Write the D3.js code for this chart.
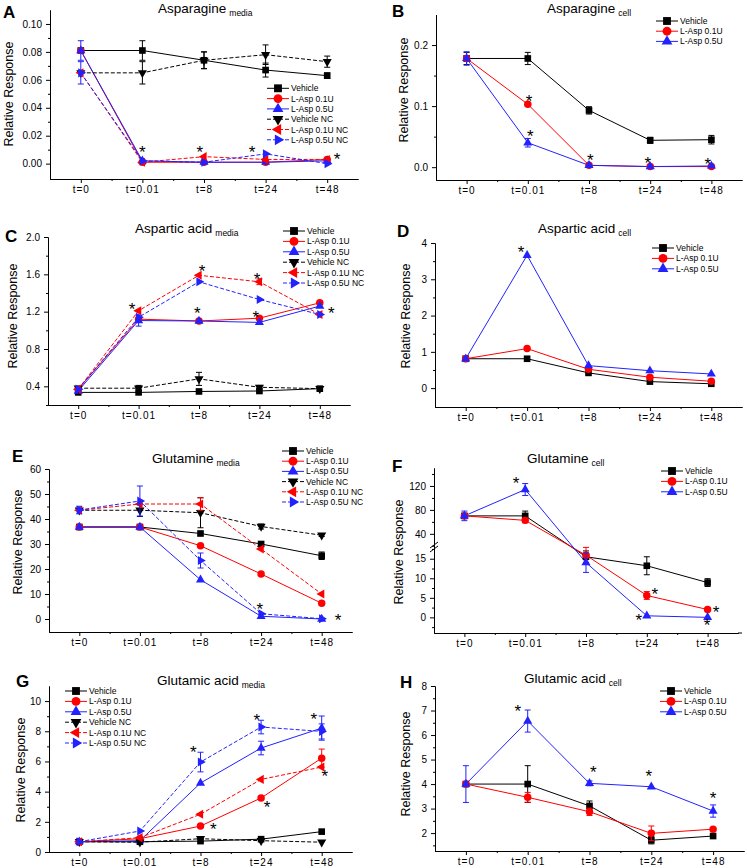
<!DOCTYPE html>
<html>
<head>
<meta charset="utf-8">
<title>amino acids - relative response</title>
<script src="https://cdn.jsdelivr.net/npm/d3@7"></script>
<style>
  body { margin: 0; background: #fff; }
  text { font-family: "Liberation Sans", Arial, sans-serif; fill: #000; }
</style>
</head>
<body>
<script>
// categorias y series
const categories = ["t=0", "t=0.01", "t=8", "t=24", "t=48"];
const seriesNames = ["Vehicle", "L-Asp 0.1U", "L-Asp 0.5U", "Vehicle NC", "L-Asp 0.1U NC", "L-Asp 0.5U NC"];

// A - Asparagine media
const asnMedVeh = [0.081, 0.081, 0.074, 0.067, 0.063], asnMedVehErr = [0, 0.007, 0.006, 0.005, 0.002];
const asnMed01 = [0.081, 0.001, 0.001, 0.001, 0.003], asnMed01Err = [0, 0, 0, 0, 0];
const asnMed05 = [0.081, 0.002, 0.001, 0.001, 0.002], asnMed05Err = [0.007, 0, 0, 0, 0];
const asnMedVehNC = [0.065, 0.065, 0.074, 0.078, 0.073], asnMedVehNCErr = [0, 0.008, 0.006, 0.007, 0.004];
const asnMed01NC = [0.065, 0.001, 0.005, 0.003, 0.003], asnMed01NCErr = [0, 0, 0, 0, 0];
const asnMed05NC = [0.065, 0.002, 0.001, 0.007, 0.000], asnMed05NCErr = [0.008, 0, 0, 0, 0];
const asnMedStars = [[1.0, 0.011], [1.93, 0.011], [2.78, 0.011], [4.16, 0.0065]];

// B - Asparagine cell
const asnCelVeh = [0.178, 0.178, 0.093, 0.044, 0.045], asnCelVehErr = [0.01, 0.01, 0.006, 0.005, 0.007];
const asnCel01 = [0.178, 0.103, 0.003, 0.001, 0.001], asnCel01Err = [0, 0.003, 0, 0, 0];
const asnCel05 = [0.178, 0.040, 0.003, 0.001, 0.002], asnCel05Err = [0.011, 0.007, 0, 0, 0];
const asnCelStars = [[1.02, 0.115], [1.04, 0.057], [2.02, 0.018], [2.96, 0.013], [3.94, 0.011]];

// C - Aspartic acid media
const aspMedVeh = [0.335, 0.335, 0.345, 0.35, 0.375], aspMedVehErr = [0, 0, 0, 0.02, 0];
const aspMed01 = [0.37, 1.12, 1.10, 1.13, 1.295], aspMed01Err = [0, 0, 0, 0, 0];
const aspMed05 = [0.35, 1.105, 1.10, 1.085, 1.26], aspMed05Err = [0, 0.06, 0, 0, 0];
const aspMedVehNC = [0.38, 0.38, 0.48, 0.39, 0.375], aspMedVehNCErr = [0, 0.03, 0.07, 0.02, 0.02];
const aspMed01NC = [0.37, 1.21, 1.59, 1.52, 1.17], aspMed01NCErr = [0, 0, 0, 0.03, 0];
const aspMed05NC = [0.37, 1.14, 1.52, 1.33, 1.17], aspMed05NCErr = [0, 0, 0, 0, 0];
const aspMedStars = [[0.89, 1.27], [2.05, 1.68], [1.97, 1.23], [2.96, 1.59], [2.94, 1.19], [4.19, 1.23]];

// D - Aspartic acid cell
const aspCelVeh = [0.81, 0.81, 0.42, 0.18, 0.12], aspCelVehErr = [0, 0, 0, 0, 0];
const aspCel01 = [0.81, 1.09, 0.52, 0.30, 0.19], aspCel01Err = [0, 0, 0, 0, 0];
const aspCel05 = [0.81, 3.66, 0.62, 0.48, 0.39], aspCel05Err = [0, 0, 0, 0, 0];
const aspCelStars = [[0.9, 3.86]];

// E - Glutamine media
const glnMedVeh = [36.8, 36.8, 34.2, 30.0, 25.3], glnMedVehErr = [0, 0, 0, 1, 1.5];
const glnMed01 = [36.8, 36.8, 29.3, 18.0, 6.3], glnMed01Err = [0, 0, 0, 0, 0];
const glnMed05 = [36.8, 36.8, 15.7, 1.1, 0.0], glnMed05Err = [0, 0, 0, 0, 0];
const glnMedVehNC = [43.5, 43.5, 42.5, 37.0, 33.5], glnMedVehNCErr = [0, 2.5, 6, 1, 0.5];
const glnMed01NC = [43.5, 46.0, 46.0, 28.0, 10.0], glnMed01NCErr = [0, 0, 2.5, 0, 0];
const glnMed05NC = [43.6, 47.2, 23.4, 2.1, 0.1], glnMed05NCErr = [1.5, 6, 3, 0, 0];
const glnMedStars = [[2.98, 5.6], [4.27, 1.2]];

// F - Glutamine cell (eje cortado)
const glnCelVeh = [70, 70, 15.5, 13.2, 8.9], glnCelVehErr = [0, 8, 1.5, 2.3, 1];
const glnCel01 = [70, 62.5, 15.9, 5.6, 2.0], glnCel01Err = [0, 4, 2, 1, 0];
const glnCel05 = [70, 114, 14.0, 0.4, 0], glnCel05Err = [8, 10, 2.5, 0, 0];
const glnCelStars = [[0.85, 131], [3.13, 6.9], [2.87, 0.4], [4.14, 2.45], [3.99, -0.9]];

// G - Glutamic acid media
const gluMedVeh = [0.68, 0.68, 0.72, 0.85, 1.35], gluMedVehErr = [0, 0, 0.1, 0, 0];
const gluMed01 = [0.68, 0.88, 1.72, 3.58, 6.22], gluMed01Err = [0, 0, 0, 0, 0.6];
const gluMed05 = [0.68, 0.75, 4.57, 6.89, 8.21], gluMed05Err = [0, 0, 0, 0.45, 0.8];
const gluMedVehNC = [0.68, 0.65, 0.88, 0.75, 0.65], gluMedVehNCErr = [0, 0, 0, 0, 0];
const gluMed01NC = [0.68, 0.95, 2.5, 4.81, 5.63], gluMed01NCErr = [0, 0, 0, 0, 0];
const gluMed05NC = [0.68, 1.39, 5.96, 8.28, 7.99], gluMed05NCErr = [0, 0, 0.65, 0.45, 0.5];
const gluMedStars = [[1.88, 6.9], [2.21, 1.8], [2.93, 9.0], [3.1, 3.25], [3.87, 9.1], [4.05, 5.3]];

// H - Glutamic acid cell
const gluCelVeh = [4.0, 4.0, 3.11, 1.71, 1.88], gluCelVehErr = [0, 0.75, 0.2, 0.15, 0];
const gluCel01 = [4.0, 3.46, 2.87, 1.99, 2.16], gluCel01Err = [0, 0.2, 0.15, 0.3, 0];
const gluCel05 = [4.0, 6.57, 4.03, 3.89, 2.9], gluCel05Err = [0.75, 0.45, 0.1, 0, 0.25];
const gluCelStars = [[0.84, 7.14], [2.06, 4.65], [2.96, 4.49], [4.0, 3.6]];

// estilos de cada serie
const RED = "#ff0000", BLUE = "#2222ff", BLACK = "#000";
const estilos = {
  "Vehicle":       { color: BLACK, sym: d3.symbolSquare,   rot: 0,   dash: null, size: 44 },
  "L-Asp 0.1U":    { color: RED,   sym: d3.symbolCircle,   rot: 0,   dash: null, size: 44 },
  "L-Asp 0.5U":    { color: BLUE,  sym: d3.symbolTriangle, rot: 0,   dash: null, size: 36 },
  "Vehicle NC":    { color: BLACK, sym: d3.symbolTriangle, rot: 180, dash: "4,2", size: 36 },
  "L-Asp 0.1U NC": { color: RED,   sym: d3.symbolTriangle, rot: -90, dash: "4,2", size: 36 },
  "L-Asp 0.5U NC": { color: BLUE,  sym: d3.symbolTriangle, rot: 90,  dash: "4,2", size: 36 }
};

const mk = (vals, errs) => vals.map((v, i) => ({ v: v, e: errs[i] }));
const seis = (a) => seriesNames.map((n, k) => ({ name: n, pts: mk(a[k][0], a[k][1]) }));
const tres = (a) => seriesNames.slice(0, 3).map((n, k) => ({ name: n, pts: mk(a[k][0], a[k][1]) }));

const paneles = [
  { letra: "A", titulo: "Asparagine", sub: "media", lx: 3, ly: 18, tx: 158, ty: 13,
    xr: [50, 358], yd: [-0.011, 0.11], yr: [179, 10], major: d3.range(0, 0.101, 0.02), minor: d3.range(0.01, 0.11, 0.02), fmt: d3.format(".2f"),
    rrx: 13, rry: 94, leg: [267, 88.3, 10.3], stars: asnMedStars,
    series: seis([[asnMedVeh, asnMedVehErr], [asnMed01, asnMed01Err], [asnMed05, asnMed05Err], [asnMedVehNC, asnMedVehNCErr], [asnMed01NC, asnMed01NCErr], [asnMed05NC, asnMed05NCErr]]) },
  { letra: "B", titulo: "Asparagine", sub: "cell", lx: 392, ly: 17, tx: 547, ty: 13,
    xr: [436, 742], yd: [-0.021, 0.25], yr: [180, 14.5], major: [0, 0.1, 0.2], minor: [0.05, 0.15], fmt: d3.format(".1f"),
    rrx: 408, rry: 90, leg: [656, 21, 10.2], stars: asnCelStars,
    series: tres([[asnCelVeh, asnCelVehErr], [asnCel01, asnCel01Err], [asnCel05, asnCel05Err]]) },
  { letra: "C", titulo: "Aspartic acid", sub: "media", lx: 5, ly: 242, tx: 135, ty: 233,
    xr: [48, 350], yd: [0.2, 2.0], yr: [405, 237], major: [0.4, 0.8, 1.2, 1.6, 2.0], minor: [0.2, 0.6, 1.0, 1.4, 1.8], fmt: d3.format(".1f"),
    rrx: 17, rry: 316, leg: [283, 231, 10.4], stars: aspMedStars,
    series: seis([[aspMedVeh, aspMedVehErr], [aspMed01, aspMed01Err], [aspMed05, aspMed05Err], [aspMedVehNC, aspMedVehNCErr], [aspMed01NC, aspMed01NCErr], [aspMed05NC, aspMed05NCErr]]) },
  { letra: "D", titulo: "Aspartic acid", sub: "cell", lx: 397, ly: 237, tx: 538, ty: 233,
    xr: [435, 742], yd: [-0.52, 4], yr: [407, 243], major: [0, 1, 2, 3, 4], minor: [0.5, 1.5, 2.5, 3.5], fmt: d3.format("d"),
    rrx: 410, rry: 316, leg: [652, 248, 10.4], stars: aspCelStars,
    series: tres([[aspCelVeh, aspCelVehErr], [aspCel01, aspCel01Err], [aspCel05, aspCel05Err]]) },
  { letra: "E", titulo: "Glutamine", sub: "media", lx: 12, ly: 462, tx: 152, ty: 463,
    xr: [49, 352], yd: [-5.2, 60], yr: [632, 469], major: d3.range(0, 61, 10), minor: d3.range(5, 60, 10), fmt: d3.format("d"),
    rrx: 22, rry: 542, leg: [282, 451, 10.2], stars: glnMedStars,
    series: seis([[glnMedVeh, glnMedVehErr], [glnMed01, glnMed01Err], [glnMed05, glnMed05Err], [glnMedVehNC, glnMedVehNCErr], [glnMed01NC, glnMed01NCErr], [glnMed05NC, glnMed05NCErr]]) },
  { letra: "F", titulo: "Glutamine", sub: "cell", lx: 392, ly: 472, tx: 527, ty: 463,
    xr: [434, 738], xEnd: 742, yd: [-4, 18, 150], yr: [633, 547, 468], major: [0, 5, 10, 15, 40, 80, 120], minor: [-2.5, 2.5, 7.5, 12.5, 17.5, 20, 60, 100, 140], fmt: d3.format("d"),
    rrx: 403, rry: 552, leg: [661, 471, 10.4], stars: glnCelStars, corte: 18,
    series: tres([[glnCelVeh, glnCelVehErr], [glnCel01, glnCel01Err], [glnCel05, glnCel05Err]]) },
  { letra: "G", titulo: "Glutamic acid", sub: "media", lx: 16, ly: 687, tx: 157, ty: 685,
    xr: [49, 352], yd: [0, 11], yr: [852, 686], major: d3.range(0, 11, 2), minor: d3.range(1, 11, 2), fmt: d3.format("d"),
    rrx: 25, rry: 770, leg: [65, 691, 10.4], stars: gluMedStars,
    series: seis([[gluMedVeh, gluMedVehErr], [gluMed01, gluMed01Err], [gluMed05, gluMed05Err], [gluMedVehNC, gluMedVehNCErr], [gluMed01NC, gluMed01NCErr], [gluMed05NC, gluMed05NCErr]]) },
  { letra: "H", titulo: "Glutamic acid", sub: "cell", lx: 400, ly: 688, tx: 524, ty: 683,
    xr: [435, 744], yd: [1.27, 8], yr: [851, 686], major: d3.range(2, 9, 1), minor: d3.range(1.5, 8, 1), fmt: d3.format("d"),
    rrx: 410, rry: 764, leg: [660, 691, 10.4], stars: gluCelStars,
    series: tres([[gluCelVeh, gluCelVehErr], [gluCel01, gluCel01Err], [gluCel05, gluCel05Err]]) }
];

const svg = d3.select("body").append("svg")
  .attr("width", 747).attr("height", 868)
  .style("background", "#fff");

function simbolo(est, escala) {
  return d3.symbol().type(est.sym).size(est.size * (escala || 1))();
}

function dibujarPanel(p) {
  const g = svg.append("g");
  const x = d3.scaleLinear().domain([-0.5, 4.5]).range(p.xr);
  const y = d3.scaleLinear().domain(p.yd).range(p.yr);
  const yBase = p.yr[0];

  // ejes
  const ax = g.append("g").attr("transform", `translate(0,${yBase})`)
    .call(d3.axisBottom(x).tickValues([0, 1, 2, 3, 4]).tickFormat(i => categories[i]).tickSize(4).tickSizeOuter(0).tickPadding(3));
  ax.selectAll("text").attr("font-size", 10).attr("letter-spacing", "1px").attr("font-family", "Liberation Sans, Arial, sans-serif");
  g.append("g").attr("transform", `translate(0,${yBase})`)
    .call(d3.axisBottom(x).tickValues([0.5, 1.5, 2.5, 3.5]).tickFormat("").tickSize(2).tickSizeOuter(0));
  if (p.xEnd) g.append("line").attr("x1", p.xr[1]).attr("x2", p.xEnd).attr("y1", yBase).attr("y2", yBase).attr("stroke", "#000");

  const ay = g.append("g").attr("transform", `translate(${p.xr[0]},0)`)
    .call(d3.axisLeft(y).tickValues(p.major).tickFormat(p.fmt).tickSize(4).tickSizeOuter(0).tickPadding(4));
  ay.selectAll("text").attr("font-size", 10).attr("font-family", "Liberation Sans, Arial, sans-serif");
  g.append("g").attr("transform", `translate(${p.xr[0]},0)`)
    .call(d3.axisLeft(y).tickValues(p.minor.filter(v => v >= p.yd[0] && v <= p.yd[p.yd.length - 1])).tickFormat("").tickSize(2).tickSizeOuter(0));
  g.selectAll(".domain").attr("stroke", "#000");

  if (p.corte !== undefined) {
    const yc = y(p.corte);
    [-2, 2].forEach(d => {
      g.append("line").attr("x1", p.xr[0] - 4).attr("x2", p.xr[0] + 4)
        .attr("y1", yc + d + 3).attr("y2", yc + d - 3)
        .attr("stroke", "#000").attr("stroke-width", 1);
    });
  }

  // titulo, letra, etiqueta del eje
  const t = g.append("text").attr("x", p.tx).attr("y", p.ty).attr("font-size", 13.5).text(p.titulo);
  t.append("tspan").attr("dx", 3).attr("dy", 3).attr("font-size", 8.5).text(p.sub);
  g.append("text").attr("x", p.lx).attr("y", p.ly).attr("font-size", 17).attr("font-weight", "bold").text(p.letra);
  g.append("text").attr("transform", `translate(${p.rrx},${p.rry}) rotate(-90)`)
    .attr("text-anchor", "middle").attr("font-size", 12.5).text("Relative Response");

  const linea = d3.line().x((d, i) => x(i)).y(d => y(d.v));

  // lineas
  p.series.forEach(s => {
    const est = estilos[s.name];
    g.append("path").datum(s.pts).attr("d", linea).attr("fill", "none")
      .attr("stroke", est.color).attr("stroke-width", 1)
      .attr("stroke-dasharray", est.dash);
  });

  // barras de error y marcadores
  p.series.forEach(s => {
    const est = estilos[s.name];
    const eb = g.append("g").attr("stroke", est.color).attr("stroke-width", 1);
    s.pts.forEach((d, i) => {
      if (!d.e) return;
      const cx = x(i), y1 = y(d.v - d.e), y2 = y(d.v + d.e);
      eb.append("line").attr("x1", cx).attr("x2", cx).attr("y1", y1).attr("y2", y2);
      eb.append("line").attr("x1", cx - 3).attr("x2", cx + 3).attr("y1", y1).attr("y2", y1);
      eb.append("line").attr("x1", cx - 3).attr("x2", cx + 3).attr("y1", y2).attr("y2", y2);
    });
    g.append("g").selectAll("path").data(s.pts).join("path")
      .attr("d", simbolo(est))
      .attr("transform", (d, i) => `translate(${x(i)},${y(d.v)}) rotate(${est.rot})`)
      .attr("fill", est.color);
  });

  // asteriscos
  g.append("g").selectAll("text").data(p.stars).join("text")
    .attr("x", d => x(d[0])).attr("y", d => y(d[1]) + 10)
    .attr("text-anchor", "middle").attr("font-size", 17).text("*");

  // leyenda
  const [lgx, lgy, ldy] = p.leg;
  p.series.forEach((s, k) => {
    const est = estilos[s.name];
    const yy = lgy + k * ldy;
    g.append("line").attr("x1", lgx).attr("x2", lgx + 22).attr("y1", yy).attr("y2", yy)
      .attr("stroke", est.color).attr("stroke-width", 1).attr("stroke-dasharray", est.dash);
    g.append("path").attr("d", simbolo(est, 1.4))
      .attr("transform", `translate(${lgx + 11},${yy}) rotate(${est.rot})`).attr("fill", est.color);
    g.append("text").attr("x", lgx + 24).attr("y", yy + 3).attr("font-size", 8.5).text(s.name);
  });
}

paneles.forEach(dibujarPanel);
</script>
</body>
</html>
